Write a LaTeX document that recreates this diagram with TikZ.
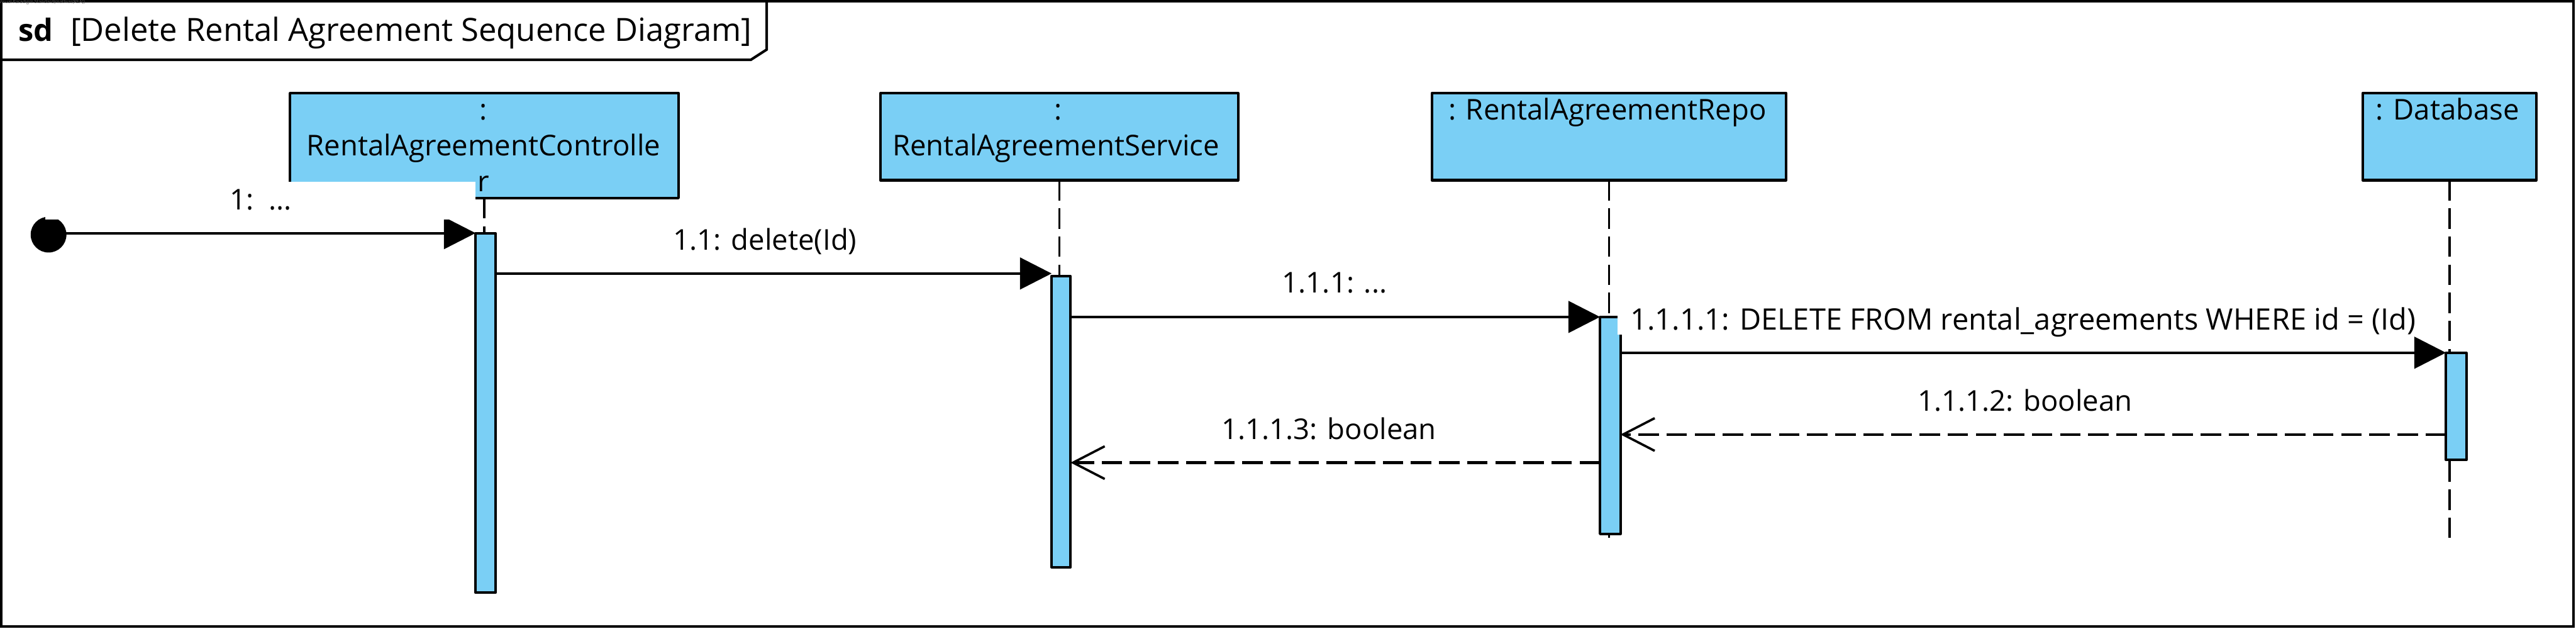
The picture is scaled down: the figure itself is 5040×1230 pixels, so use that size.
\documentclass[tikz,border=0pt]{standalone}
\usepackage{fontspec}
\setmainfont{Open Sans}
\usetikzlibrary{arrows.meta}
\definecolor{vpblue}{RGB}{122,207,245}
\begin{document}
\begin{tikzpicture}[x=1pt,y=-1pt,
  every node/.style={inner sep=0pt, outer sep=0pt},
  frameline/.style={draw, line width=5pt, line join=miter},
  headbox/.style={draw, line width=5pt, fill=vpblue, line join=round, anchor=north west},
  actbar/.style={draw, line width=5pt, fill=vpblue, line join=round, anchor=north west},
  lifeline/.style={line width=4.5pt, dash pattern=on 40pt off 15pt},
  callmsg/.style={line width=5pt, -{Triangle[length=62pt,width=62pt]}},
  retmsg/.style={line width=5pt, dash pattern=on 40pt off 15pt,
     -{Straight Barb[length=62pt,width=64pt,line width=4.5pt]}},
  txt/.style={font=\fontsize{56}{70}\selectfont, anchor=base},
  lblbg/.style={fill=white, anchor=north west}
]
\useasboundingbox (0,0) rectangle (5040,1230);

% frame and tab
\node[frameline, minimum width=5033pt, minimum height=1223.5pt, anchor=north west] (frame) at (2,2) {};
\draw[line width=5pt, line join=miter] (2,117) -- (1469,117) -- (1500,97) -- (1500,2);
\node[anchor=north west, font=\fontsize{9}{10}\selectfont, text=black!65] (wm) at (-2,0) {Visual Paradigm Standard(mathias(KEA))};
\node[anchor=base west, font=\fontsize{60}{70}\selectfont\bfseries] (sd) at (36,80) {sd};
\node[anchor=base west, font=\fontsize{62.5}{70}\selectfont] (title) at (138,80) {[Delete Rental Agreement Sequence Diagram]};

% lifeline heads
\node[headbox, minimum width=760pt, minimum height=205pt] (ctrl) at (567.5,182.5) {};
\node[headbox, minimum width=700pt, minimum height=170pt] (serv) at (1722.5,182.5) {};
\node[headbox, minimum width=693pt, minimum height=170pt] (repo) at (2801.5,182.5) {};
\node[headbox, minimum width=340pt, minimum height=170pt] (db) at (4622.5,182.5) {};

\node[txt] (ctrlA) at (946,235) {:};
\node[txt] (ctrlB) at (946,305) {RentalAgreementControlle};
\node[txt] (ctrlC) at (946,375) {r};
\node[txt] (servA) at (2070,235) {:};
\node[txt] (servB) at (2066,305) {RentalAgreementService};
\node[txt] (repoA) at (3145,235) {: RentalAgreementRepo};
\node[txt] (dbA) at (4789,235) {: Database};

% lifeline ends
\coordinate (lend) at (0,1055);
\draw[lifeline] (ctrl.south) -- (ctrl.south |- lend);
\draw[lifeline] (serv.south) -- (serv.south |- lend);
\draw[lifeline] (repo.south) -- (repo.south |- lend);
\draw[lifeline] (db.south) -- (db.south |- lend);

% activation bars
\node[actbar, minimum width=39pt, minimum height=703pt] (cbar) at (930.5,456.5) {};
\node[actbar, minimum width=37pt, minimum height=569pt] (sbar) at (2057.5,540.5) {};
\node[actbar, minimum width=40pt, minimum height=424pt] (rbar) at (3130.5,620.5) {};
\node[actbar, minimum width=40pt, minimum height=209pt] (dbar) at (4785.5,690.5) {};

% found message start
\node[circle, fill=black, minimum size=70pt] (found) at (95,459) {};

% message levels
\coordinate (m1) at (0,456);
\coordinate (m2) at (0,535);
\coordinate (m3) at (0,620);
\coordinate (m4) at (0,690);
\coordinate (m5) at (0,850);
\coordinate (m6) at (0,905);

\draw[callmsg] (found.center |- m1) -- (cbar.west |- m1);
\draw[callmsg] (cbar.east |- m2) -- (sbar.west |- m2);
\draw[callmsg] (sbar.east |- m3) -- (rbar.west |- m3);
\draw[callmsg] (rbar.east |- m4) -- (dbar.west |- m4);
\draw[retmsg] (dbar.west |- m5) -- (rbar.east |- m5);
\draw[retmsg] (rbar.west |- m6) -- (sbar.east |- m6);

% labels
\node[lblbg, minimum width=841pt, minimum height=75pt] (l1bg) at (89,355) {};
\node[txt] (l1) at (510,410) {1:\ \ ...};
\node[txt] (l2) at (1497,489) {1.1: delete(Id)};
\node[txt] (l3) at (2611,573) {1.1.1: ...};
\node[lblbg, minimum width=1590pt, minimum height=70pt] (l4bg) at (3165,585) {};
\node[txt, anchor=base west, font=\fontsize{57.8}{70}\selectfont] (l4) at (3190,645) {1.1.1.1: DELETE FROM rental\_agreements WHERE id = (Id)};
\node[txt] (l5) at (3962,804) {1.1.1.2: boolean};
\node[txt] (l6) at (2600,860) {1.1.1.3: boolean};
\end{tikzpicture}
\end{document}
